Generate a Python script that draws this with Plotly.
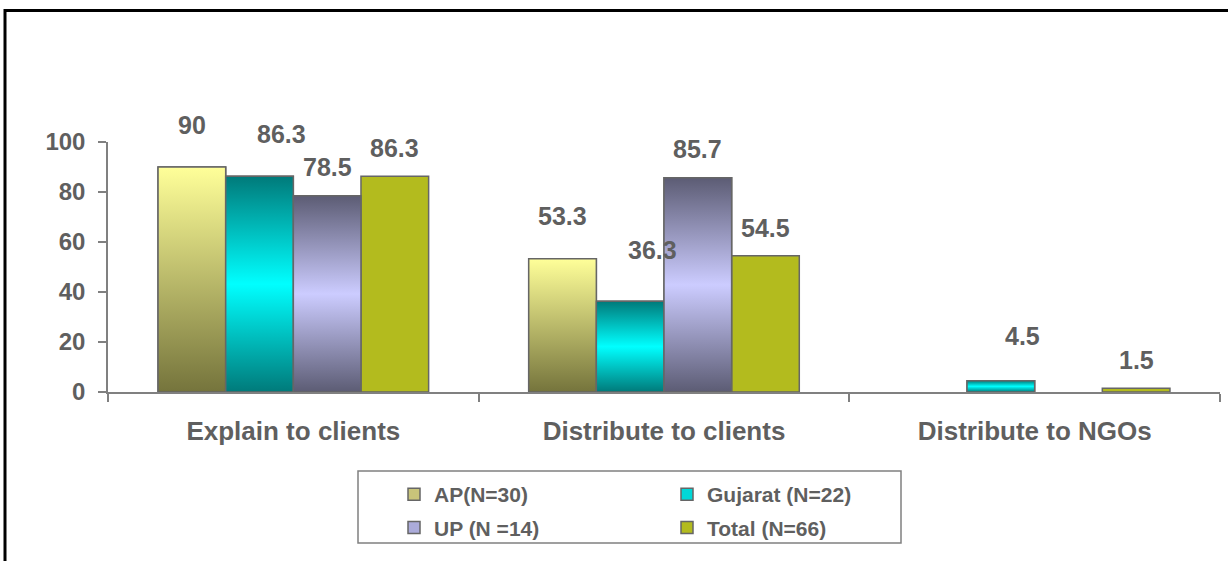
import plotly.graph_objects as go

# ---- data ----
categories = ["Explain to clients", "Distribute to clients", "Distribute to NGOs"]
series_names = ["AP(N=30)", "Gujarat (N=22)", "UP (N =14)", "Total (N=66)"]
ap_values = [90, 53.3, 0]
gujarat_values = [86.3, 36.3, 4.5]
up_values = [78.5, 85.7, 0]
total_values = [86.3, 54.5, 1.5]
y_tick_values = [0, 20, 40, 60, 80, 100]

series_values = [ap_values, gujarat_values, up_values, total_values]

# ---- styling ----
W, H = 1228, 561
ML, MR, MT, MB = 108, 8, 142, 169
PLOT_W = W - ML - MR
PLOT_H = H - MT - MB
BAR_W = 0.1825
FONT = "Liberation Sans, Arial, sans-serif"
TEXT = "#5F5F5F"
AXIS = "#808080"
EDGE = "#666666"

legend_swatch = ["#C8C47A", "#00D8D8", "#ABABDA", "#B3BB1E"]
gradients = [
    [[0, "#75743C"], [1, "#FFFF99"]],
    [[0, "#007A7A"], [0.5, "#00FFFF"], [1, "#007A7A"]],
    [[0, "#5C5C74"], [0.5, "#CCCCFF"], [1, "#5C5C74"]],
    None,
]
legend_ids = ["legend", "legend2", "legend", "legend2"]
label_lift = [[42.5, 42.5, 42.5], [42.5, 51, 45], [29, 29, 29], [28, 28, 28]]
label_nudge = [0, 22, 0, 0]


def px_x(px):
    return (px - ML) / PLOT_W


def px_y(py):
    return (H - MB - py) / PLOT_H


fig = go.Figure()

# bars (solid fill; also feeds the legend swatches); empty cells draw nothing
for i, (name, vals) in enumerate(zip(series_names, series_values)):
    fig.add_trace(go.Bar(
        x=list(range(len(categories))), y=[v if v else None for v in vals], name=name,
        offset=(i - 2) * BAR_W, width=BAR_W,
        marker=dict(color=legend_swatch[i], line=dict(color=EDGE, width=1.5)),
        legend=legend_ids[i], legendgroup=name,
        hoverinfo="skip",
    ))

# vertical gradient shading laid over the bars
for i, vals in enumerate(series_values):
    if gradients[i] is None:
        continue
    for c, v in enumerate(vals):
        if not v:
            continue
        x0 = c + (i - 2) * BAR_W
        x1 = x0 + BAR_W
        fig.add_trace(go.Scatter(
            x=[x0, x1, x1, x0, x0], y=[0, 0, v, v, 0],
            mode="lines", fill="toself",
            fillgradient=dict(type="vertical", colorscale=gradients[i]),
            line=dict(color=EDGE, width=1.5),
            showlegend=False, hoverinfo="skip",
        ))

# value labels
annotations = []
for i, vals in enumerate(series_values):
    for c, v in enumerate(vals):
        if not v:
            continue
        annotations.append(dict(
            x=c + (i - 1.5) * BAR_W, y=v, xref="x", yref="y",
            text=f"{v:g}", showarrow=False,
            xanchor="center", yanchor="middle",
            xshift=label_nudge[i], yshift=label_lift[i][c],
            font=dict(family=FONT, size=25, color=TEXT, weight="bold"),
        ))

shapes = [
    # legend box
    dict(type="rect", xref="paper", yref="paper",
         x0=px_x(358), x1=px_x(901), y0=px_y(543), y1=px_y(471),
         line=dict(color=AXIS, width=1.5), fillcolor="rgba(0,0,0,0)"),
    # outer frame (top and left edges)
    dict(type="line", xref="paper", yref="paper",
         x0=px_x(4), x1=px_x(W + 2), y0=px_y(10.5), y1=px_y(10.5),
         line=dict(color="black", width=3)),
    dict(type="line", xref="paper", yref="paper",
         x0=px_x(5), x1=px_x(5), y0=px_y(H + 2), y1=px_y(9),
         line=dict(color="black", width=3)),
]

legend_style = dict(
    orientation="v", xanchor="left", yanchor="top",
    bgcolor="rgba(0,0,0,0)", borderwidth=0,
    font=dict(family=FONT, size=21, color=TEXT, weight="bold"),
    tracegroupgap=3, itemclick=False, itemdoubleclick=False,
)

fig.update_layout(
    width=W, height=H,
    margin=dict(l=ML, r=MR, t=MT, b=MB, pad=0),
    paper_bgcolor="white", plot_bgcolor="white",
    barmode="overlay",
    showlegend=True,
    legend=dict(legend_style, x=px_x(394), y=px_y(474)),
    legend2=dict(legend_style, x=px_x(667), y=px_y(474)),
    annotations=annotations,
    shapes=shapes,
    xaxis=dict(
        range=[-0.5, len(categories) - 0.5],
        tickmode="array", tickvals=list(range(len(categories))), ticktext=categories,
        ticks="", showgrid=False, zeroline=False,
        showline=True, linecolor=AXIS, linewidth=1.5,
        minor=dict(tick0=-0.5, dtick=1, ticks="outside", ticklen=8,
                   tickcolor=AXIS, tickwidth=1.5, showgrid=False),
        tickfont=dict(family=FONT, size=26, color=TEXT, weight="bold"),
        ticklabelstandoff=15,
        fixedrange=True,
    ),
    yaxis=dict(
        range=[0, 100],
        tickmode="array", tickvals=y_tick_values,
        ticks="outside", ticklen=8, tickcolor=AXIS, tickwidth=1.5,
        showgrid=False, zeroline=False,
        showline=True, linecolor=AXIS, linewidth=1.5,
        tickfont=dict(family=FONT, size=24, color=TEXT, weight="bold"),
        ticklabelstandoff=8,
        fixedrange=True,
    ),
)

fig.write_html("out.html", config={"displayModeBar": False})
